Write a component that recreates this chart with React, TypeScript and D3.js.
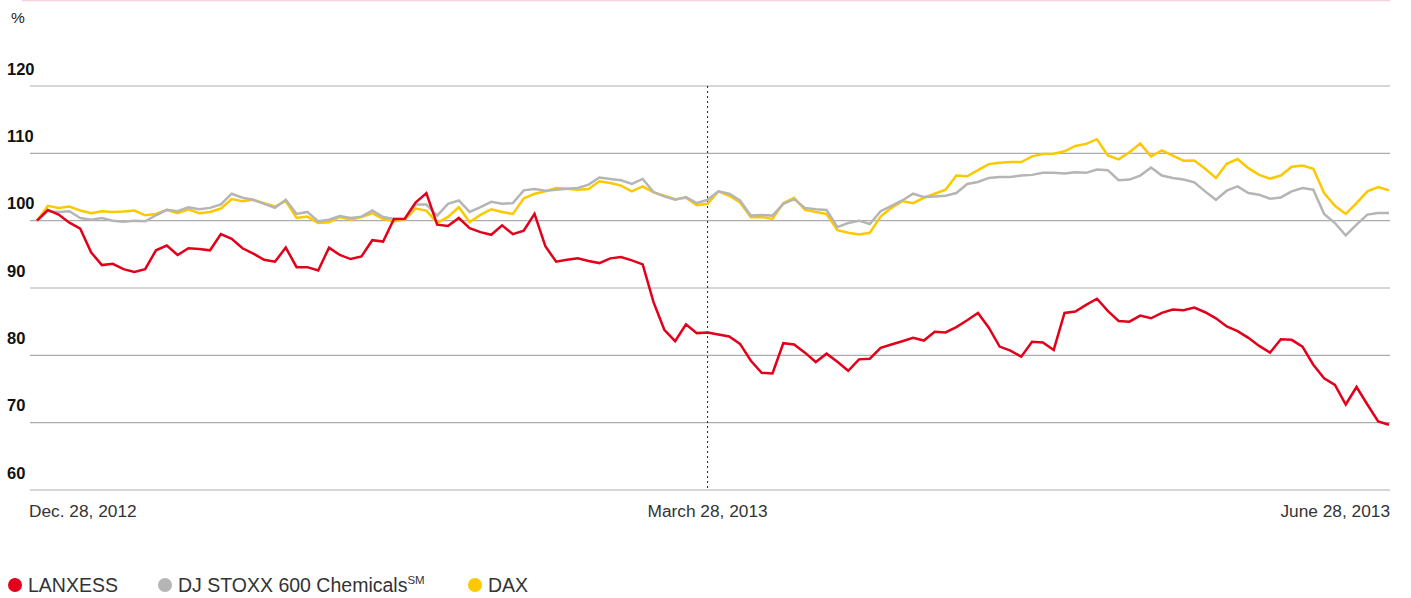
import React from 'react';
import * as d3 from 'd3';

// indexed performance, Dec. 28, 2012 = 100 (one point per trading day)
const lanxess = [
  100, 101.6, 100.9, 99.7, 98.8, 95.3, 93.4, 93.6, 92.8, 92.4,
  92.8, 95.6, 96.3, 94.9, 95.9, 95.8, 95.6, 98.0, 97.3, 95.9,
  95.1, 94.2, 93.9, 96.0, 93.1, 93.1, 92.6, 96.0, 94.9, 94.3,
  94.7, 97.1, 96.9, 100.25, 100.3, 102.7, 104.1, 99.4, 99.2, 100.4,
  98.9, 98.3, 97.9, 99.3, 98.0, 98.5, 101.0, 96.2, 93.9, 94.2,
  94.4, 94.0, 93.7, 94.4, 94.6, 94.1, 93.5, 87.9, 83.8, 82.1,
  84.6, 83.3, 83.4, 83.1, 82.8, 81.7, 79.2, 77.4, 77.3, 81.8,
  81.6, 80.4, 79.0, 80.25, 79.05, 77.7, 79.4, 79.5, 81.1, 81.6,
  82.1, 82.6, 82.2, 83.5, 83.4, 84.2, 85.2, 86.3, 84.1, 81.3,
  80.7, 79.8, 82.0, 81.9, 80.8, 86.3, 86.5, 87.5, 88.4, 86.6,
  85.1, 85.0, 85.9, 85.5, 86.3, 86.8, 86.7, 87.1, 86.4, 85.5,
  84.3, 83.6, 82.6, 81.4, 80.4, 82.4, 82.3, 81.3, 78.6, 76.6,
  75.6, 72.7, 75.3, 72.7, 70.2, 69.7,
];

const stoxxChemicals = [
  100, 101.4, 101.3, 101.4, 100.4, 100.15, 100.4, 100.0, 99.85, 100.0,
  99.9, 100.8, 101.6, 101.4, 102.0, 101.7, 101.9, 102.4, 104.0, 103.4,
  103.1, 102.5, 101.9, 103.1, 101.0, 101.3, 99.9, 100.15, 100.7, 100.4,
  100.6, 101.5, 100.55, 100.25, 100.25, 102.4, 102.4, 100.75, 102.5, 103.0,
  101.3, 102.0, 102.8, 102.5, 102.6, 104.5, 104.7, 104.45, 104.6, 104.75,
  104.85, 105.35, 106.4, 106.2, 106.0, 105.45, 106.2, 104.25, 103.6, 103.1,
  103.5, 102.6, 103.1, 104.35, 104.0, 103.0, 100.75, 100.85, 100.75, 102.5,
  103.2, 101.9, 101.7, 101.6, 99.05, 99.65, 100.0, 99.5, 101.4, 102.2,
  103.0, 104.0, 103.5, 103.6, 103.7, 104.1, 105.45, 105.75, 106.35, 106.5,
  106.5, 106.7, 106.8, 107.1, 107.1, 107.0, 107.2, 107.1, 107.6, 107.5,
  106.0, 106.1, 106.7, 107.9, 106.7, 106.35, 106.1, 105.7, 104.35, 103.1,
  104.45, 105.1, 104.1, 103.85, 103.25, 103.45, 104.35, 104.85, 104.6, 101.0,
  99.65, 97.8, 99.4, 100.9, 101.15, 101.15,
];

const dax = [
  100, 102.2, 101.9, 102.1, 101.5, 101.1, 101.4, 101.3, 101.35, 101.5,
  100.8, 101.0, 101.6, 101.1, 101.7, 101.1, 101.3, 101.8, 103.2, 102.9,
  103.1, 102.6, 102.1, 102.9, 100.4, 100.6, 99.65, 99.75, 100.55, 100.15,
  100.55, 101.1, 100.25, 99.9, 100.15, 101.8, 101.5, 99.65, 100.55, 102.0,
  99.8, 100.85, 101.7, 101.3, 101.0, 103.3, 104.0, 104.35, 104.85, 104.75,
  104.6, 104.7, 105.85, 105.6, 105.2, 104.35, 105.1, 104.2, 103.7, 103.2,
  103.4, 102.3, 102.5, 104.35, 103.7, 102.7, 100.5, 100.55, 100.25, 102.6,
  103.4, 101.6, 101.3, 101.0, 98.6, 98.2, 97.95, 98.2, 100.6, 101.9,
  102.9, 102.6, 103.4, 104.0, 104.6, 106.7, 106.6, 107.5, 108.4, 108.6,
  108.7, 108.7, 109.55, 109.9, 109.95, 110.3, 111.1, 111.4, 112.1, 109.7,
  109.1, 110.15, 111.45, 109.55, 110.45, 109.65, 108.9, 108.95, 107.7, 106.35,
  108.45, 109.15, 107.8, 106.8, 106.25, 106.7, 108.0, 108.2, 107.7, 104.1,
  102.2, 101.0, 102.6, 104.35, 105.0, 104.5,
];

const yTicks = [60, 70, 80, 90, 100, 110, 120];
const xTickIdx = [0, 62, 125];
const xTickLabels = ['Dec. 28, 2012', 'March 28, 2013', 'June 28, 2013'];
const markerIdx = 62; // March 28, 2013

const seriesNames = ['LANXESS', 'DJ STOXX 600 Chemicals', 'DAX'];
const seriesColors = ['#e2001a', '#b5b5b5', '#fcc900'];

const FONT = '"Liberation Sans", Arial, sans-serif';

const App = () => {
  const svgRef = React.useRef(null);
  const W = 1411;
  const H = 598;

  React.useEffect(() => {
    const svg = d3.select(svgRef.current);
    svg.selectAll('*').remove();

    const x = d3.scaleLinear().domain([0, lanxess.length - 1]).range([37, 1389]);
    const y = d3.scaleLinear().domain([60, 120]).range([490, 86]);

    // thin rule at the very top
    svg.append('line')
      .attr('x1', 22).attr('x2', 1390)
      .attr('y1', 0.5).attr('y2', 0.5)
      .attr('stroke', '#f6d3da').attr('stroke-width', 1.5);

    svg.append('text')
      .attr('x', 11).attr('y', 23)
      .attr('font-family', FONT).attr('font-size', 15.5)
      .attr('fill', '#222')
      .text('%');

    // grid + y labels
    const grid = svg.append('g');
    grid.selectAll('line')
      .data(yTicks)
      .enter()
        .append('line')
        .attr('x1', 30).attr('x2', 1390)
        .attr('y1', (d) => y(d)).attr('y2', (d) => y(d))
        .attr('stroke', '#adadad').attr('stroke-width', 1.2);

    grid.selectAll('text')
      .data(yTicks)
      .enter()
        .append('text')
        .attr('x', 7)
        .attr('y', (d) => y(d) - 11.5)
        .attr('font-family', FONT).attr('font-size', 16.5)
        .attr('font-weight', 'bold')
        .attr('fill', '#111')
        .text((d) => d);

    // March 28 marker
    svg.append('line')
      .attr('x1', x(markerIdx)).attr('x2', x(markerIdx))
      .attr('y1', y(120)).attr('y2', y(60))
      .attr('stroke', '#222').attr('stroke-width', 1)
      .style('stroke-dasharray', '2,3');

    // x labels
    const anchors = ['start', 'middle', 'end'];
    svg.append('g')
      .selectAll('text')
      .data(xTickIdx)
      .enter()
        .append('text')
        .attr('x', (d, i) => (i === 0 ? 29 : i === 2 ? 1390 : x(d)))
        .attr('y', 517)
        .attr('text-anchor', (d, i) => anchors[i])
        .attr('font-family', FONT).attr('font-size', 17.3)
        .attr('fill', '#333')
        .text((d, i) => xTickLabels[i]);

    const line = d3.line<number>()
      .x((d, i) => x(i))
      .y((d) => y(d));

    const drawOrder = [
      { values: dax, color: seriesColors[2] },
      { values: stoxxChemicals, color: seriesColors[1] },
      { values: lanxess, color: seriesColors[0] },
    ];
    drawOrder.forEach((s) => {
      svg.append('path')
        .datum(s.values)
        .attr('d', line)
        .attr('fill', 'none')
        .attr('stroke', s.color)
        .attr('stroke-width', 2.5)
        .attr('stroke-linejoin', 'miter');
    });

    // legend
    const legendX = [15, 165, 475];
    const lg = svg.append('g');
    seriesNames.forEach((name, i) => {
      lg.append('circle')
        .attr('cx', legendX[i]).attr('cy', 585)
        .attr('r', 7)
        .attr('fill', seriesColors[i]);
      const t = lg.append('text')
        .attr('x', legendX[i] + 13).attr('y', 592)
        .attr('font-family', FONT).attr('font-size', 19.5)
        .attr('fill', '#333')
        .text(name);
      if (i === 1) {
        t.append('tspan')
          .attr('font-size', 11.5)
          .attr('dy', -8)
          .text('SM');
      }
    });
  }, []);

  return (
    <svg
      ref={svgRef}
      width={W}
      height={H}
      style={{ position: 'absolute', left: 0, top: 0, display: 'block', background: '#fff' }}
    />
  );
};

export default App;
